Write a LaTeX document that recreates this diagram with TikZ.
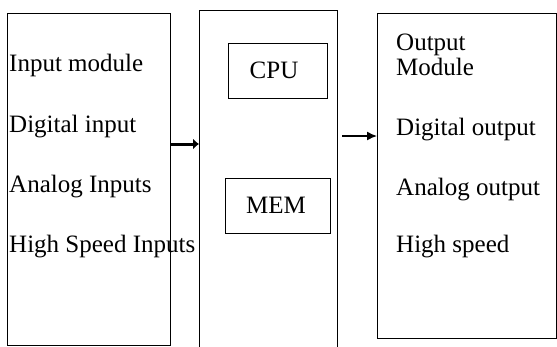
\documentclass[tikz,border=0pt]{standalone}
\usepackage{fontspec}
\setmainfont{Liberation Serif}
\usetikzlibrary{arrows.meta}
\begin{document}
\begin{tikzpicture}[x=1pt,y=-1pt,
  box/.style={draw,line width=1pt,minimum width=#1,inner sep=0pt,anchor=north west},
  lbl/.style={anchor=base west,inner sep=0pt,font=\fontsize{25}{30}\selectfont},
  clbl/.style={anchor=base,inner sep=0pt,font=\fontsize{25}{30}\selectfont}]
\useasboundingbox (0,0) rectangle (557,346);
% outer boxes
\node[box=163pt,minimum height=332pt] (left) at (7,13) {};
\node[inner sep=0pt,minimum width=138pt,minimum height=340pt,anchor=north west] (mid) at (199,10) {};
\draw[line width=1pt] (mid.south west) -- (mid.north west) -- (mid.north east) -- (mid.south east);
\node[box=179pt,minimum height=325pt] (right) at (377,13) {};
\node[box=99pt,minimum height=55pt] (cpu) at (228,43) {};
\node[box=105pt,minimum height=55pt] (mem) at (225,178) {};
% texts
\node[lbl] (t1) at (9,71) {Input module};
\node[lbl] (t2) at (9,132) {Digital input};
\node[lbl] (t3) at (9,192) {Analog Inputs};
\node[lbl] (t4) at (9,252) {High Speed Inputs};
\node[clbl] (tc) at (274,78) {CPU};
\node[clbl] (tm) at (276,213) {MEM};
\node[lbl] (o1) at (396,50) {Output};
\node[lbl] (o2) at (396,75) {Module};
\node[lbl] (o3) at (396,135) {Digital output};
\node[lbl] (o4) at (396,195) {Analog output};
\node[lbl] (o5) at (396,252) {High speed};
% arrows
\coordinate (a1) at (0,144);
\coordinate (a2) at (342,136);
\draw[line width=3pt,-{Latex[length=6pt,width=11pt]}] (left.east |- a1) -- (mid.west |- a1);
\draw[line width=1.4pt,-{Latex[length=10pt,width=9pt]}] (a2) -- (right.west |- a2);
\end{tikzpicture}
\end{document}
